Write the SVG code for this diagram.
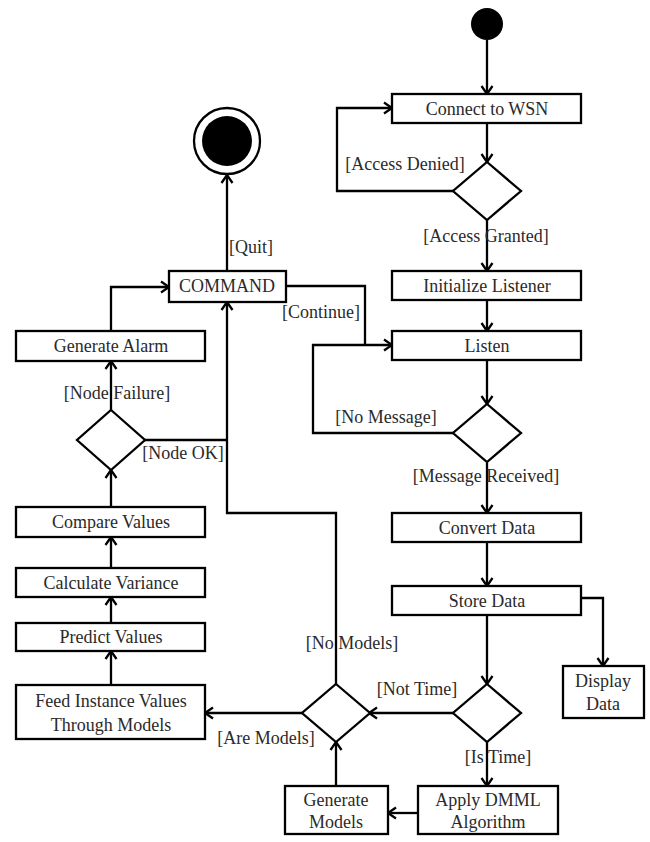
<svg xmlns="http://www.w3.org/2000/svg" width="650" height="842" viewBox="0 0 650 842" font-family="'Liberation Serif', 'DejaVu Serif', serif">
<style>
.b{fill:#fff;stroke:#000;stroke-width:2.3}
.l{fill:none;stroke:#000;stroke-width:2.3}
.a{fill:none;stroke:#000;stroke-width:2.3;marker-end:url(#arr)}
text{font-size:18px;fill:#2a2a2a;text-anchor:middle}
</style>
<defs>
<marker id="arr" markerUnits="userSpaceOnUse" markerWidth="14" markerHeight="14" viewBox="0 0 14 14" refX="12" refY="7" orient="auto">
<path d="M4,1.5 L12,7 L4,12.5" fill="none" stroke="#000" stroke-width="2.3"/>
</marker>
</defs>
<rect width="650" height="842" fill="#fff"/>
<g id="connectors">
<path class="a" d="M487,40 V94"/>
<path class="a" d="M487,123 V162"/>
<path class="a" d="M454,191 H337 V108 H392"/>
<path class="a" d="M487,220 V271"/>
<path class="a" d="M487,300 V331"/>
<path class="a" d="M487,360 V404"/>
<path class="a" d="M454,433 H313 V345 H392"/>
<path class="l" d="M286,286 H365 V345"/>
<path class="a" d="M487,463 V513"/>
<path class="a" d="M487,542 V586"/>
<path class="a" d="M581,598 H603 V666"/>
<path class="a" d="M487,615 V684"/>
<path class="a" d="M454,713 H369"/>
<path class="a" d="M487,742 V786"/>
<path class="a" d="M418,813 H388"/>
<path class="a" d="M336,786 V742"/>
<path class="a" d="M336,684 V513 H227 V302"/>
<path class="a" d="M303,713 H205"/>
<path class="a" d="M111,685 V651"/>
<path class="a" d="M111,623 V597"/>
<path class="a" d="M111,568 V537"/>
<path class="a" d="M111,507 V470"/>
<path class="l" d="M144,440 H227"/>
<path class="a" d="M111,410 V361"/>
<path class="a" d="M111,331 V287 H169"/>
<path class="a" d="M227,271 V175"/>
<text x="405" y="170">[Access Denied]</text>
<text x="486" y="242">[Access Granted]</text>
<text x="251" y="253">[Quit]</text>
<text x="321" y="318">[Continue]</text>
<text x="117" y="399">[Node Failure]</text>
<text x="183" y="459">[Node OK]</text>
<text x="386" y="423">[No Message]</text>
<text x="486" y="482">[Message Received]</text>
<text x="352" y="649">[No Models]</text>
<text x="417" y="695">[Not Time]</text>
<text x="498" y="763">[Is Time]</text>
<text x="266" y="744">[Are Models]</text>
</g>
<g id="start"><circle cx="487" cy="24" r="16" fill="#000"/></g>
<g id="end"><circle cx="227" cy="141" r="33" fill="#fff" stroke="#000" stroke-width="2.3"/><circle cx="227" cy="141" r="25" fill="#000"/></g>
<g id="connect"><rect class="b" x="392" y="94" width="189" height="29"/><text x="487" y="115">Connect to WSN</text></g>
<g id="d-access"><path class="b" d="M487,162 L521,191 L487,220 L453,191 Z"/></g>
<g id="init"><rect class="b" x="392" y="271" width="189" height="29"/><text x="487" y="292">Initialize Listener</text></g>
<g id="listen"><rect class="b" x="392" y="331" width="189" height="29"/><text x="487" y="352">Listen</text></g>
<g id="d-msg"><path class="b" d="M487,404 L521,433 L487,462 L453,433 Z"/></g>
<g id="convert"><rect class="b" x="392" y="513" width="189" height="29"/><text x="487" y="534">Convert Data</text></g>
<g id="store"><rect class="b" x="392" y="586" width="189" height="29"/><text x="487" y="607">Store Data</text></g>
<g id="display"><rect class="b" x="563" y="666" width="81" height="52"/><text x="603" y="687">Display</text><text x="603" y="710">Data</text></g>
<g id="d-time"><path class="b" d="M487,684 L521,713 L487,742 L453,713 Z"/></g>
<g id="apply"><rect class="b" x="418" y="786" width="140" height="48"/><text x="488" y="806">Apply DMML</text><text x="488" y="828">Algorithm</text></g>
<g id="genmodels"><rect class="b" x="285" y="786" width="103" height="48"/><text x="336" y="806">Generate</text><text x="336" y="828">Models</text></g>
<g id="d-models"><path class="b" d="M336,684 L370,713 L336,742 L302,713 Z"/></g>
<g id="feed"><rect class="b" x="16" y="685" width="189" height="54"/><text x="111" y="707">Feed Instance Values</text><text x="111" y="731">Through Models</text></g>
<g id="predict"><rect class="b" x="16" y="623" width="189" height="28"/><text x="111" y="643">Predict Values</text></g>
<g id="calc"><rect class="b" x="16" y="568" width="189" height="29"/><text x="111" y="589">Calculate Variance</text></g>
<g id="compare"><rect class="b" x="16" y="507" width="189" height="30"/><text x="111" y="528">Compare Values</text></g>
<g id="d-node"><path class="b" d="M111,410 L145,440 L111,470 L77,440 Z"/></g>
<g id="alarm"><rect class="b" x="16" y="331" width="189" height="30"/><text x="111" y="352">Generate Alarm</text></g>
<g id="command"><rect class="b" x="169" y="271" width="117" height="31"/><text x="227" y="292">COMMAND</text></g>
</svg>
